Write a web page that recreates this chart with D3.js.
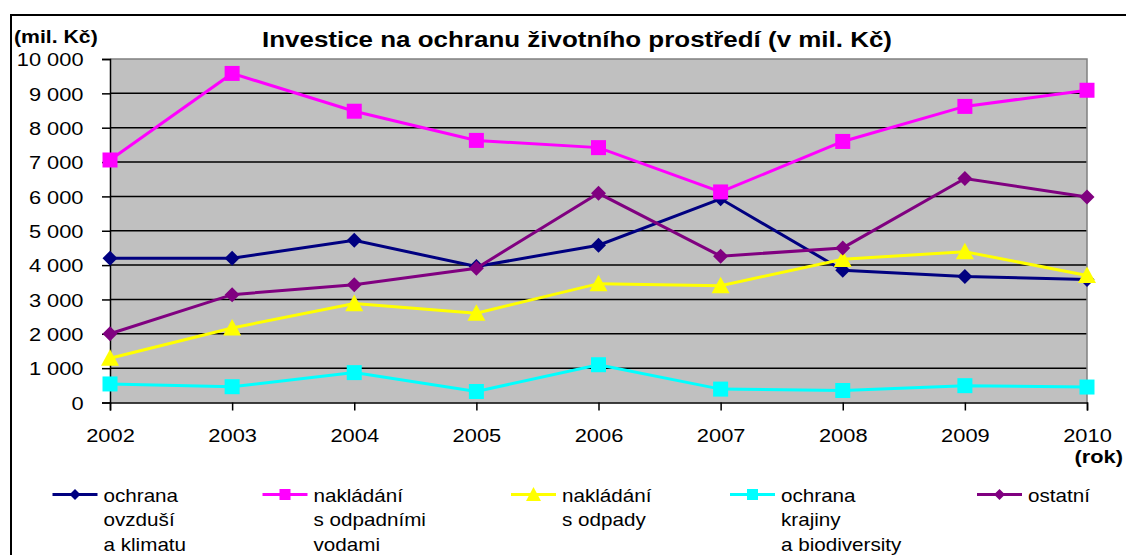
<!DOCTYPE html>
<html>
<head>
<meta charset="utf-8">
<script src="https://cdn.jsdelivr.net/npm/d3@7"></script>
<style>
  body { margin: 0; background: #fff; }
  svg { display: block; font-family: "Liberation Sans", Arial, sans-serif; }
</style>
</head>
<body>
<svg id="chart" width="1126" height="555"></svg>
<script>
// data (mil. Kč)
var years = [2002, 2003, 2004, 2005, 2006, 2007, 2008, 2009, 2010];
var ovzdusi = [4200, 4200, 4720, 3960, 4580, 5930, 3850, 3670, 3580];
var odpadniVody = [7060, 9580, 8480, 7630, 7420, 6130, 7600, 8620, 9090];
var odpady = [1290, 2170, 2880, 2600, 3460, 3400, 4170, 4390, 3700];
var krajina = [540, 460, 870, 320, 1100, 390, 350, 490, 450];
var ostatni = [2000, 3140, 3430, 3910, 6090, 4260, 4500, 6520, 5980];
var yTicks = [0, 1000, 2000, 3000, 4000, 5000, 6000, 7000, 8000, 9000, 10000];

var series = [
  { name: ['ochrana', 'ovzduší', 'a klimatu'], values: ovzdusi, color: '#000080', marker: 'diamond' },
  { name: ['nakládání', 's odpadními', 'vodami'], values: odpadniVody, color: '#ff00ff', marker: 'square' },
  { name: ['nakládání', 's odpady'], values: odpady, color: '#ffff00', marker: 'triangle' },
  { name: ['ochrana', 'krajiny', 'a biodiversity'], values: krajina, color: '#00ffff', marker: 'square' },
  { name: ['ostatní'], values: ostatni, color: '#800080', marker: 'diamond' }
];

// the original picture is a bit wider than tall, so text is stretched sideways
var SX = 1.18;
var plot = { left: 110, right: 1087, top: 59, bottom: 402.5 };

var svg = d3.select('#chart');

var x = d3.scalePoint().domain(years).range([plot.left, plot.right]);
var y = d3.scaleLinear().domain([0, 10000]).range([plot.bottom, plot.top]);

var fmt = d3.formatLocale({ decimal: ',', thousands: '\u00a0', grouping: [3], currency: ['', ''] }).format(',');

// outer frame
svg.append('rect')
  .attr('x', 11).attr('y', 15)
  .attr('width', 1200).attr('height', 600)
  .attr('fill', 'none').attr('stroke', '#000').attr('stroke-width', 2);

// plot background
svg.append('rect')
  .attr('x', plot.left).attr('y', plot.top)
  .attr('width', plot.right - plot.left).attr('height', plot.bottom - plot.top)
  .attr('fill', '#c0c0c0');

// gridlines
svg.append('g').selectAll('line')
  .data(yTicks.slice(1, -1))
  .enter().append('line')
  .attr('x1', plot.left).attr('x2', plot.right)
  .attr('y1', function(d) { return y(d); })
  .attr('y2', function(d) { return y(d); })
  .attr('stroke', '#000').attr('stroke-width', 1.5);

// top and right border of plot
svg.append('path')
  .attr('d', 'M' + plot.left + ',' + plot.top + 'H' + plot.right + 'V' + plot.bottom)
  .attr('fill', 'none').attr('stroke', '#808080').attr('stroke-width', 1.5);

// y axis
var yAxis = svg.append('g')
  .attr('transform', 'translate(' + plot.left + ',0)')
  .call(d3.axisLeft(y).tickValues(yTicks).tickSize(8).tickFormat(fmt));
yAxis.select('.domain').attr('stroke', '#000').attr('stroke-width', 1.5);
yAxis.selectAll('.tick line').attr('stroke', '#000').attr('stroke-width', 1.5);
yAxis.selectAll('.tick text')
  .attr('x', -26.5 / SX)
  .attr('dy', '0.36em')
  .attr('transform', 'scale(' + SX + ',1)')
  .attr('font-size', 18.5)
  .attr('font-family', '"Liberation Sans", Arial, sans-serif')
  .attr('fill', '#000');

// x axis
var xAxis = svg.append('g')
  .attr('transform', 'translate(0,' + plot.bottom + ')')
  .call(d3.axisBottom(x).tickSize(8).tickFormat(d3.format('d')));
xAxis.select('.domain').attr('stroke', '#000').attr('stroke-width', 1.5);
xAxis.selectAll('.tick line').attr('stroke', '#000').attr('stroke-width', 1.5);
xAxis.selectAll('.tick text')
  .attr('y', 39.5).attr('dy', 0)
  .attr('transform', 'scale(' + SX + ',1)')
  .attr('x', 0)
  .attr('font-size', 18.5)
  .attr('font-family', '"Liberation Sans", Arial, sans-serif')
  .attr('fill', '#000');

// markers: square rhombus, square, upward triangle
function drawMarker(sel, type, size, color) {
  var r = size / 2, d;
  if (type === 'diamond') {
    d = 'M0,' + (-r) + 'L' + r + ',0L0,' + r + 'L' + (-r) + ',0Z';
  } else if (type === 'triangle') {
    d = 'M0,' + (-r) + 'L' + r + ',' + (r * 0.85) + 'L' + (-r) + ',' + (r * 0.85) + 'Z';
  } else {
    d = 'M' + (-r) + ',' + (-r) + 'H' + r + 'V' + r + 'H' + (-r) + 'Z';
  }
  sel.append('path').attr('d', d).attr('fill', color);
}

var line = d3.line()
  .x(function(d, i) { return x(years[i]); })
  .y(function(d) { return y(d); });

series.forEach(function(s) {
  var g = svg.append('g');
  g.append('path')
    .datum(s.values)
    .attr('d', line)
    .attr('fill', 'none')
    .attr('stroke', s.color)
    .attr('stroke-width', 3);
  g.selectAll('g.pt')
    .data(s.values)
    .enter().append('g')
    .attr('class', 'pt')
    .attr('transform', function(d, i) { return 'translate(' + x(years[i]) + ',' + y(d) + ')'; })
    .each(function() {
      drawMarker(d3.select(this), s.marker, s.marker === 'triangle' ? 18 : 15, s.color);
    });
});

// texts
function label(txt, px, py, size, bold, anchor) {
  return svg.append('text')
    .attr('transform', 'translate(' + px + ',' + py + ') scale(' + SX + ',1)')
    .attr('text-anchor', anchor || 'start')
    .attr('font-size', size)
    .attr('font-weight', bold ? 'bold' : 'normal')
    .attr('fill', '#000')
    .text(txt);
}

label('Investice na ochranu životního prostředí (v mil. Kč)', 262, 47, 22, true);
label('(mil. Kč)', 14, 43, 18, true);
label('(rok)', 1123, 463, 18.5, true, 'end');

// legend
var legendX = [103.5, 313.5, 562, 781, 1028];
var legendLineY = 494.5;
series.forEach(function(s, i) {
  var lx = legendX[i];
  var g = svg.append('g');
  g.append('line')
    .attr('x1', lx - 51).attr('x2', lx - 6)
    .attr('y1', legendLineY).attr('y2', legendLineY)
    .attr('stroke', s.color).attr('stroke-width', 3);
  var m = g.append('g').attr('transform', 'translate(' + (lx - 28.5) + ',' + legendLineY + ')');
  drawMarker(m, s.marker, s.marker === 'triangle' ? 15 : 11, s.color);
  s.name.forEach(function(t, j) {
    label(t, lx, 501.5 + j * 24.5, 17.5, false);
  });
});
</script>
</body>
</html>
